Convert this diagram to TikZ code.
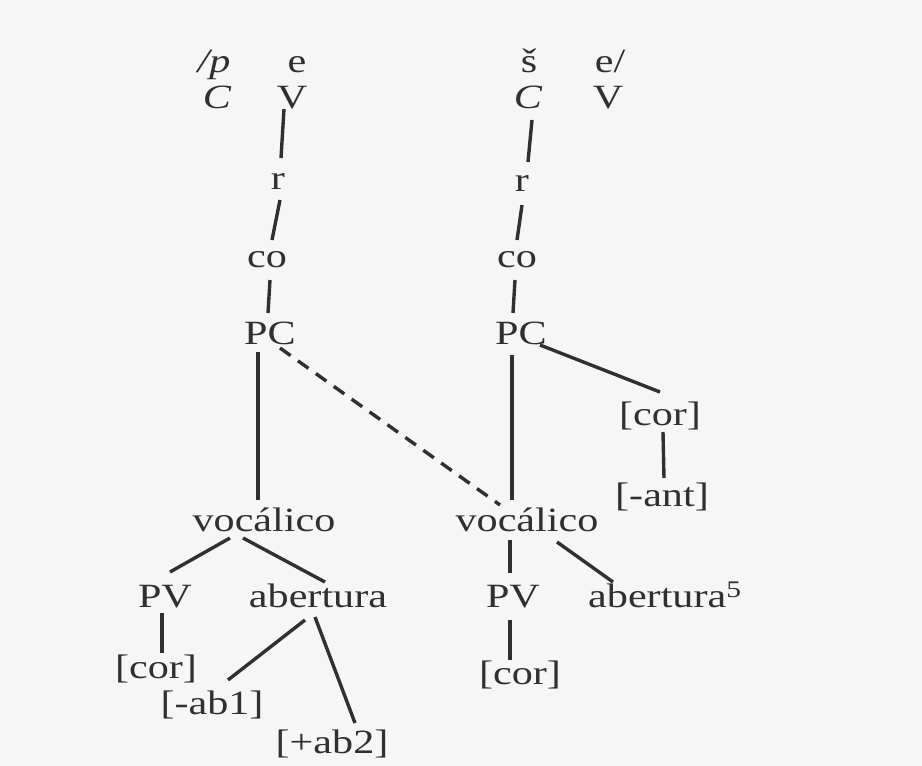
\documentclass[tikz,border=0pt]{standalone}
\usepackage{fontspec}
\usepackage{graphicx}
\setmainfont{Liberation Serif}
\newcommand\hs[1]{\scalebox{1.24}[1]{#1}}
\begin{document}
\begin{tikzpicture}[x=1pt,y=-1pt,
  lab/.style={inner sep=0pt, anchor=base, text=ink, font=\fontsize{34}{38}\selectfont},
  edge/.style={draw=ink, line width=3.4pt},
  dedge/.style={draw=ink, line width=3.4pt, dash pattern=on 13pt off 9pt}]
\definecolor{ink}{HTML}{303030}
\definecolor{paper}{HTML}{F6F6F6}
\fill[paper] (0,0) rectangle (922,766);
\useasboundingbox (0,0) rectangle (922,766);
% top segments
\node[lab] (p) at (214,72) {\hs{\itshape /p}};
\node[lab] (e1) at (297,72) {\hs{e}};
\node[lab] (C1) at (217,108) {\hs{\itshape C}};
\node[lab] (V1) at (292,108) {\hs{V}};
\node[lab] (s) at (529,72) {\hs{š}};
\node[lab] (e2) at (610,72) {\hs{e/}};
\node[lab] (C2) at (528,108) {\hs{\itshape C}};
\node[lab] (V2) at (608,108) {\hs{V}};
% left column
\node[lab] (r1) at (278,189) {\hs{r}};
\node[lab] (co1) at (267,267) {\hs{co}};
\node[lab] (PC1) at (270,344) {\hs{PC}};
\node[lab] (voc1) at (264,531) {\hs{vocálico}};
\node[lab] (PV1) at (165,607) {\hs{PV}};
\node[lab] (ab1) at (318,607) {\hs{abertura}};
\node[lab] (cor1) at (156,678) {\hs{[cor]}};
\node[lab] (mab) at (212,714) {\hs{[-ab1]}};
\node[lab] (pab) at (332,753) {\hs{[+ab2]}};
% right column
\node[lab] (r2) at (522,191) {\hs{r}};
\node[lab] (co2) at (517,267) {\hs{co}};
\node[lab] (PC2) at (521,344) {\hs{PC}};
\node[lab] (cor3) at (660,425) {\hs{[cor]}};
\node[lab] (ant) at (662,506) {\hs{[-ant]}};
\node[lab] (voc2) at (527,531) {\hs{vocálico}};
\node[lab] (PV2) at (513,607) {\hs{PV}};
\node[lab, anchor=base west] (ab2) at (588,607) {\hs{abertura$^{\mathrm{5}}$}};
\node[lab] (cor2) at (520,684) {\hs{[cor]}};
% left edges
\draw[edge] ([shift={(-8,1)}]V1.base) -- ([shift={(3,-31)}]r1.base);
\draw[edge] ([shift={(2,11)}]r1.base) -- ([shift={(5,-27)}]co1.base);
\draw[edge] ([shift={(3,13)}]co1.base) -- ([shift={(-2,-31)}]PC1.base);
\draw[edge] ([shift={(-12,8)}]PC1.base) -- ([shift={(-6,-31)}]voc1.base);
\draw[dedge] ([shift={(10,4)}]PC1.base) -- ([shift={(-27,-26)}]voc2.base);
\draw[edge] ([shift={(-34,7)}]voc1.base) -- ([shift={(5,-35)}]PV1.base);
\draw[edge] ([shift={(-21,7)}]voc1.base) -- ([shift={(7,-25)}]ab1.base);
\draw[edge] ([shift={(-3,6)}]PV1.base) -- ([shift={(6,-25)}]cor1.base);
\draw[edge] ([shift={(-13,13)}]ab1.base) -- ([shift={(16,-34)}]mab.base);
\draw[edge] ([shift={(-3,10)}]ab1.base) -- ([shift={(23,-30)}]pab.base);
% right edges
\draw[edge] ([shift={(4,12)}]C2.base) -- ([shift={(6,-29)}]r2.base);
\draw[edge] ([shift={(0,14)}]r2.base) -- ([shift={(0,-27)}]co2.base);
\draw[edge] ([shift={(-2,13)}]co2.base) -- ([shift={(-8,-31)}]PC2.base);
\draw[edge] ([shift={(-9,11)}]PC2.base) -- ([shift={(-15,-31)}]voc2.base);
\draw[edge] ([shift={(19,1)}]PC2.base) -- ([shift={(0,-33)}]cor3.base);
\draw[edge] ([shift={(3,7)}]cor3.base) -- ([shift={(2,-28)}]ant.base);
\draw[edge] ([shift={(-17,9)}]voc2.base) -- ([shift={(-3,-34)}]PV2.base);
\draw[edge] ([shift={(30,11)}]voc2.base) -- ([shift={(25,-25)}]ab2.base west);
\draw[edge] ([shift={(-3,13)}]PV2.base) -- ([shift={(-10,-24)}]cor2.base);
\end{tikzpicture}
\end{document}
